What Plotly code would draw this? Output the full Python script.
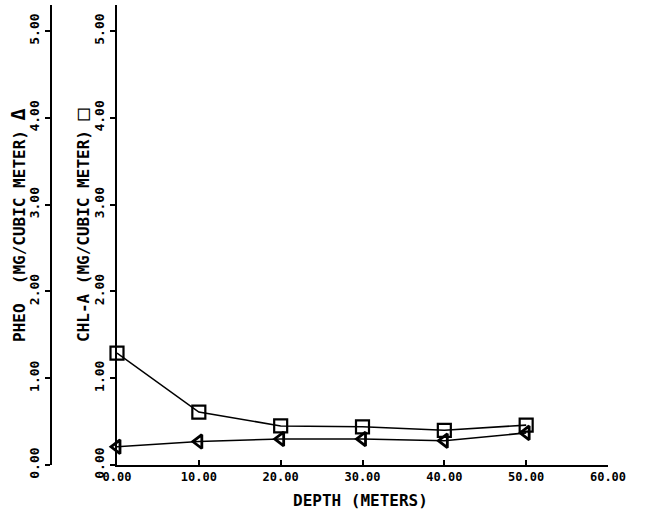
import plotly.graph_objects as go

# Sampling depths (m) and pigment concentrations (mg / cubic meter)
depth = [0, 10, 20, 30, 40, 50]
chl_a = [1.29, 0.61, 0.45, 0.44, 0.40, 0.46]
pheo = [0.21, 0.27, 0.30, 0.30, 0.28, 0.37]

x_ticks = [0, 10, 20, 30, 40, 50, 60]
y_ticks = [0, 1, 2, 3, 4, 5]

W, H = 667, 514
FONT = "DejaVu Sans Mono"
INK = "black"

fig = go.Figure()

fig.add_trace(go.Scatter(
    x=depth, y=chl_a, mode="lines+markers", name="CHL-A",
    line=dict(color=INK, width=1.6),
    marker=dict(symbol="square-open", size=13, color=INK, line=dict(width=2.2, color=INK)),
    cliponaxis=False, xaxis="x", yaxis="y",
))
fig.add_trace(go.Scatter(
    x=depth, y=pheo, mode="lines+markers", name="PHEO",
    line=dict(color=INK, width=1.6),
    marker=dict(symbol="triangle-left-open", size=12, color=INK, line=dict(width=2.8, color=INK)),
    cliponaxis=False, xaxis="x", yaxis="y2",
))

x0, x1 = 117 / W, 608 / W
y0, y1 = (H - 465) / H, (H - 5) / H

yax = dict(
    range=[0, 5.3], tickvals=y_ticks, ticktext=[f"{v:.2f}" for v in y_ticks],
    showline=True, linecolor=INK, linewidth=2, mirror=False,
    ticks="outside", ticklen=5, tickwidth=2, tickcolor=INK,
    tickangle=-90, tickfont=dict(family=FONT, size=13, color=INK, weight="bold"),
    showgrid=False, zeroline=False, automargin=False, domain=[y0, y1],
    ticklabelstandoff=1,
)

title_font = dict(family=FONT, size=16, color=INK, weight="bold")
big = "<span style='font-size:20px'>{}</span>"

fig.update_layout(
    template="none",
    width=W, height=H,
    margin=dict(l=0, r=0, t=0, b=0),
    paper_bgcolor="white", plot_bgcolor="white",
    showlegend=False,
    font=dict(family=FONT, color=INK),
    xaxis=dict(
        domain=[x0, x1], range=[0, 60], tickvals=x_ticks,
        ticktext=[f"{v:.2f}" for v in x_ticks],
        showline=True, linecolor=INK, linewidth=2,
        ticks="inside", ticklen=5, tickwidth=2, tickcolor=INK,
        tickfont=dict(family=FONT, size=12, color=INK, weight="bold"),
        showgrid=False, zeroline=False, automargin=False, anchor="y",
    ),
    yaxis=dict(**yax, anchor="x", side="left"),
    yaxis2=dict(**yax, anchor="free", overlaying="y", side="left", position=51 / W),
    annotations=[
        dict(text="PHEO  (MG/CUBIC METER) " + big.format("Δ"), x=18 / W, y=1 - 225 / H,
             xref="paper", yref="paper", xanchor="center", yanchor="middle",
             textangle=-90, showarrow=False, font=title_font),
        dict(text="CHL-A (MG/CUBIC METER) " + big.format("□"), x=82 / W, y=1 - 225 / H,
             xref="paper", yref="paper", xanchor="center", yanchor="middle",
             textangle=-90, showarrow=False, font=title_font),
        dict(text="DEPTH (METERS)", x=360 / W, y=1 - 500 / H,
             xref="paper", yref="paper", xanchor="center", yanchor="middle",
             showarrow=False, font=title_font),
    ],
)

fig.write_html("out.html")
